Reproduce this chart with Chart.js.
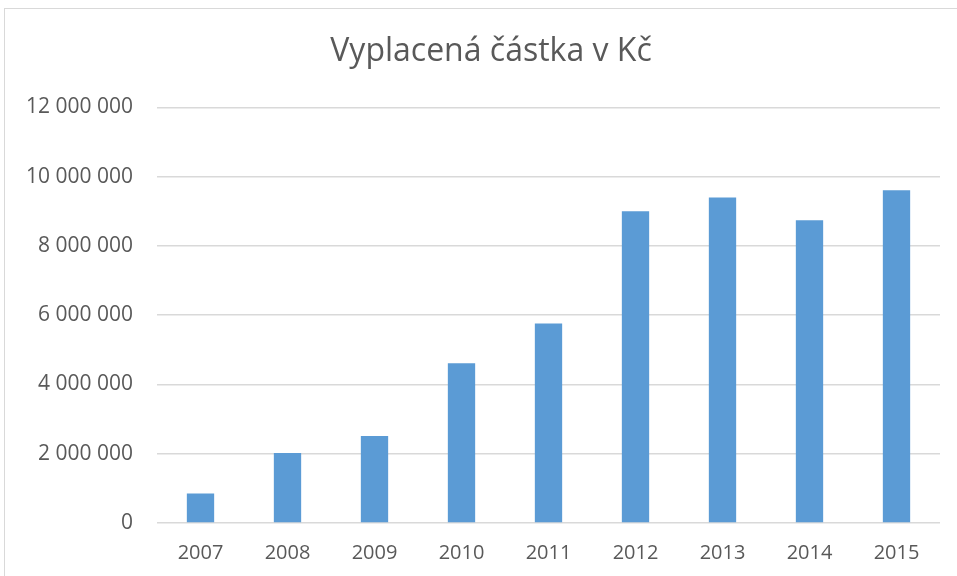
<!DOCTYPE html>
<html>
<head>
<meta charset="utf-8">
<script src="https://cdn.jsdelivr.net/npm/chart.js@4"></script>
<style>
  html, body { margin: 0; padding: 0; background: #fff; }
  #wrap { position: relative; width: 957px; height: 576px; overflow: hidden; }
  #frame { position: absolute; left: 4px; top: 8px; width: 970px; height: 600px; border: 1px solid #d9d9d9; box-sizing: border-box; }
  #chart { position: absolute; left: 0; top: 0; }
</style>
</head>
<body>
<div id="wrap">
  <div id="frame"></div>
  <canvas id="chart" width="957" height="576"></canvas>
</div>
<script>
const years = ["2007", "2008", "2009", "2010", "2011", "2012", "2013", "2014", "2015"];
const amounts = [850000, 2020000, 2510000, 4610000, 5760000, 9000000, 9400000, 8740000, 9610000];
const yMax = 12000000;
const yStep = 2000000;

// 12 000 000 style labels
function fmt(v) {
  return String(v).replace(/\B(?=(\d{3})+(?!\d))/g, " ");
}

// centre the title on the outer frame, not on the canvas
const titleShift = {
  id: "titleShift",
  afterLayout(c) {
    c.titleBlock.left = 4;
    c.titleBlock.right = 978;
  }
};

const ctx = document.getElementById("chart").getContext("2d");

const chart = new Chart(ctx, {
  type: "bar",
  data: {
    labels: years,
    datasets: [{
      label: "Vyplacená částka v Kč",
      data: amounts,
      backgroundColor: "#5b9bd5",
      borderWidth: 0,
      categoryPercentage: 1,
      barPercentage: 0.314
    }]
  },
  options: {
    responsive: false,
    animation: false,
    layout: {
      padding: { left: 0, right: 17, top: 0, bottom: 0 }
    },
    plugins: {
      legend: { display: false },
      tooltip: { enabled: false },
      title: {
        display: true,
        text: "Vyplacená částka v Kč",
        color: "#595959",
        font: { family: "Open Sans", size: 32, weight: "normal" },
        padding: { top: 33, bottom: 36 }
      }
    },
    scales: {
      x: {
        grid: { display: false, drawTicks: false },
        border: { display: false },
        ticks: {
          color: "#595959",
          font: { family: "Open Sans", size: 20 },
          padding: 18,
          maxRotation: 0
        },
        afterFit: (scale) => { scale.height = 53; }
      },
      y: {
        min: 0,
        max: yMax,
        grid: { color: "#d9d9d9", lineWidth: 1.5, drawTicks: false },
        border: { display: false },
        ticks: {
          stepSize: yStep,
          color: "#595959",
          font: { family: "Open Sans", size: 21 },
          padding: 24,
          callback: (v) => fmt(v)
        },
        afterFit: (scale) => { scale.width = 157; }
      }
    }
  },
  plugins: [titleShift]
});
</script>
</body>
</html>
